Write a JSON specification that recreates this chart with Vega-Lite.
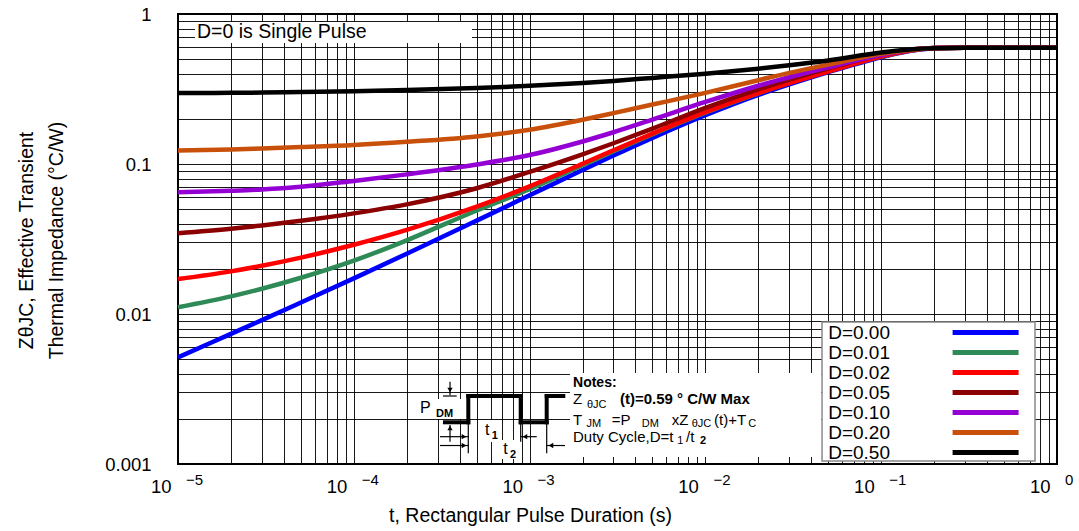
{
"$schema":"https://vega.github.io/schema/vega-lite/v6.json",
"width":879,"height":450,
"autosize":{"type":"none"},
"padding":{"left":178,"top":14,"right":22,"bottom":67},
"background":"white",
"config":{
 "view":{"stroke":"#000","strokeWidth":2},
 "axis":{"gridColor":"#000","gridOpacity":0.9,"gridWidth":1,"ticks":false,"tickSize":0,"domain":false,"labelFont":"Liberation Sans","labelFontSize":18.5,"labelColor":"#000","titleFont":"Liberation Sans","titleFontSize":19.5,"titleFontWeight":"normal","titleColor":"#000","labelOverlap":false,"labelBound":false,"labelFlush":false},
 "text":{"font":"Liberation Sans","color":"#000"}
},
"datasets":{"curves":[
{"D":"D=0.00","t":0.00001,"z":0.00514},{"D":"D=0.00","t":0.00002,"z":0.00737},{"D":"D=0.00","t":0.00003,"z":0.0091},{"D":"D=0.00","t":0.00005,"z":0.01193},{"D":"D=0.00","t":0.0001,"z":0.01729},{"D":"D=0.00","t":0.0002,"z":0.02522},{"D":"D=0.00","t":0.0005,"z":0.04194},{"D":"D=0.00","t":0.001,"z":0.06183},{"D":"D=0.00","t":0.002,"z":0.09117},{"D":"D=0.00","t":0.003,"z":0.1139},{"D":"D=0.00","t":0.005,"z":0.1494},{"D":"D=0.00","t":0.01,"z":0.2113},{"D":"D=0.00","t":0.02,"z":0.2886},{"D":"D=0.00","t":0.03,"z":0.3393},{"D":"D=0.00","t":0.05,"z":0.4101},{"D":"D=0.00","t":0.1,"z":0.5153},{"D":"D=0.00","t":0.15,"z":0.5704},{"D":"D=0.00","t":0.2,"z":0.5922},{"D":"D=0.00","t":0.3,"z":0.595},{"D":"D=0.00","t":0.5,"z":0.595},{"D":"D=0.00","t":1,"z":0.595},
{"D":"D=0.01","t":0.00001,"z":0.01109},{"D":"D=0.01","t":0.00002,"z":0.0131},{"D":"D=0.01","t":0.00003,"z":0.01473},{"D":"D=0.01","t":0.00005,"z":0.01744},{"D":"D=0.01","t":0.0001,"z":0.02269},{"D":"D=0.01","t":0.0002,"z":0.031},{"D":"D=0.01","t":0.0005,"z":0.04901},{"D":"D=0.01","t":0.001,"z":0.0679},{"D":"D=0.01","t":0.002,"z":0.09804},{"D":"D=0.01","t":0.003,"z":0.1216},{"D":"D=0.01","t":0.005,"z":0.1577},{"D":"D=0.01","t":0.01,"z":0.22},{"D":"D=0.01","t":0.02,"z":0.2962},{"D":"D=0.01","t":0.03,"z":0.347},{"D":"D=0.01","t":0.05,"z":0.416},{"D":"D=0.01","t":0.1,"z":0.5194},{"D":"D=0.01","t":0.15,"z":0.5725},{"D":"D=0.01","t":0.2,"z":0.5925},{"D":"D=0.01","t":0.3,"z":0.595},{"D":"D=0.01","t":0.5,"z":0.595},{"D":"D=0.01","t":1,"z":0.595},
{"D":"D=0.02","t":0.00001,"z":0.0171},{"D":"D=0.02","t":0.00002,"z":0.01924},{"D":"D=0.02","t":0.00003,"z":0.02096},{"D":"D=0.02","t":0.00005,"z":0.02374},{"D":"D=0.02","t":0.0001,"z":0.02893},{"D":"D=0.02","t":0.0002,"z":0.03636},{"D":"D=0.02","t":0.0005,"z":0.05198},{"D":"D=0.02","t":0.001,"z":0.07102},{"D":"D=0.02","t":0.002,"z":0.1004},{"D":"D=0.02","t":0.003,"z":0.1235},{"D":"D=0.02","t":0.005,"z":0.1595},{"D":"D=0.02","t":0.01,"z":0.2217},{"D":"D=0.02","t":0.02,"z":0.2965},{"D":"D=0.02","t":0.03,"z":0.3459},{"D":"D=0.02","t":0.05,"z":0.4136},{"D":"D=0.02","t":0.1,"z":0.52},{"D":"D=0.02","t":0.15,"z":0.573},{"D":"D=0.02","t":0.2,"z":0.5932},{"D":"D=0.02","t":0.3,"z":0.595},{"D":"D=0.02","t":0.5,"z":0.595},{"D":"D=0.02","t":1,"z":0.595},
{"D":"D=0.05","t":0.00001,"z":0.0345},{"D":"D=0.05","t":0.00002,"z":0.03699},{"D":"D=0.05","t":0.00003,"z":0.03891},{"D":"D=0.05","t":0.00005,"z":0.0418},{"D":"D=0.05","t":0.0001,"z":0.04688},{"D":"D=0.05","t":0.0002,"z":0.05383},{"D":"D=0.05","t":0.0005,"z":0.06896},{"D":"D=0.05","t":0.001,"z":0.08851},{"D":"D=0.05","t":0.002,"z":0.116},{"D":"D=0.05","t":0.003,"z":0.1375},{"D":"D=0.05","t":0.005,"z":0.1722},{"D":"D=0.05","t":0.01,"z":0.2368},{"D":"D=0.05","t":0.02,"z":0.3147},{"D":"D=0.05","t":0.03,"z":0.3656},{"D":"D=0.05","t":0.05,"z":0.4349},{"D":"D=0.05","t":0.1,"z":0.5355},{"D":"D=0.05","t":0.15,"z":0.5808},{"D":"D=0.05","t":0.2,"z":0.5943},{"D":"D=0.05","t":0.3,"z":0.595},{"D":"D=0.05","t":0.5,"z":0.595},{"D":"D=0.05","t":1,"z":0.595},
{"D":"D=0.10","t":0.00001,"z":0.06471},{"D":"D=0.10","t":0.00002,"z":0.06629},{"D":"D=0.10","t":0.00003,"z":0.06765},{"D":"D=0.10","t":0.00005,"z":0.07048},{"D":"D=0.10","t":0.0001,"z":0.07715},{"D":"D=0.10","t":0.0002,"z":0.08527},{"D":"D=0.10","t":0.0005,"z":0.0992},{"D":"D=0.10","t":0.001,"z":0.1147},{"D":"D=0.10","t":0.002,"z":0.1413},{"D":"D=0.10","t":0.003,"z":0.1628},{"D":"D=0.10","t":0.005,"z":0.1977},{"D":"D=0.10","t":0.01,"z":0.2591},{"D":"D=0.10","t":0.02,"z":0.3324},{"D":"D=0.10","t":0.03,"z":0.3785},{"D":"D=0.10","t":0.05,"z":0.4412},{"D":"D=0.10","t":0.1,"z":0.5321},{"D":"D=0.10","t":0.15,"z":0.577},{"D":"D=0.10","t":0.2,"z":0.5923},{"D":"D=0.10","t":0.3,"z":0.595},{"D":"D=0.10","t":0.5,"z":0.595},{"D":"D=0.10","t":1,"z":0.595},
{"D":"D=0.20","t":0.00001,"z":0.123},{"D":"D=0.20","t":0.00002,"z":0.125},{"D":"D=0.20","t":0.00003,"z":0.127},{"D":"D=0.20","t":0.00005,"z":0.1297},{"D":"D=0.20","t":0.0001,"z":0.134},{"D":"D=0.20","t":0.0002,"z":0.1406},{"D":"D=0.20","t":0.0005,"z":0.1527},{"D":"D=0.20","t":0.001,"z":0.1694},{"D":"D=0.20","t":0.002,"z":0.1973},{"D":"D=0.20","t":0.003,"z":0.2183},{"D":"D=0.20","t":0.005,"z":0.249},{"D":"D=0.20","t":0.01,"z":0.298},{"D":"D=0.20","t":0.02,"z":0.362},{"D":"D=0.20","t":0.03,"z":0.405},{"D":"D=0.20","t":0.05,"z":0.46},{"D":"D=0.20","t":0.1,"z":0.542},{"D":"D=0.20","t":0.15,"z":0.578},{"D":"D=0.20","t":0.2,"z":0.59},{"D":"D=0.20","t":0.3,"z":0.595},{"D":"D=0.20","t":0.5,"z":0.595},{"D":"D=0.20","t":1,"z":0.595},
{"D":"D=0.50","t":0.00001,"z":0.297},{"D":"D=0.50","t":0.00002,"z":0.298},{"D":"D=0.50","t":0.00003,"z":0.2995},{"D":"D=0.50","t":0.00005,"z":0.3015},{"D":"D=0.50","t":0.0001,"z":0.305},{"D":"D=0.50","t":0.0002,"z":0.311},{"D":"D=0.50","t":0.0005,"z":0.321},{"D":"D=0.50","t":0.001,"z":0.332},{"D":"D=0.50","t":0.002,"z":0.347},{"D":"D=0.50","t":0.003,"z":0.358},{"D":"D=0.50","t":0.005,"z":0.375},{"D":"D=0.50","t":0.01,"z":0.4},{"D":"D=0.50","t":0.02,"z":0.432},{"D":"D=0.50","t":0.03,"z":0.455},{"D":"D=0.50","t":0.05,"z":0.49},{"D":"D=0.50","t":0.1,"z":0.553},{"D":"D=0.50","t":0.15,"z":0.583},{"D":"D=0.50","t":0.2,"z":0.592},{"D":"D=0.50","t":0.3,"z":0.595},{"D":"D=0.50","t":0.5,"z":0.595},{"D":"D=0.50","t":1,"z":0.595}
],
"exps":[{"t":0.00001,"e":"−5"},{"t":0.0001,"e":"−4"},{"t":0.001,"e":"−3"},{"t":0.01,"e":"−2"},{"t":0.1,"e":"−1"},{"t":1,"e":"0"}],
"one":[{}]},
"layer":[
{"data":{"name":"curves"},
 "mark":{"type":"line","strokeWidth":4.5,"interpolate":"monotone"},
 "encoding":{
  "x":{"field":"t","type":"quantitative","scale":{"type":"log","domain":[0.00001,1],"nice":false},
   "axis":{"values":[0.00001,0.00002,0.00003,0.00004,0.00005,0.00006,0.00007,0.00008,0.00009,0.0001,0.0002,0.0003,0.0004,0.0005,0.0006,0.0007,0.0008,0.0009,0.001,0.002,0.003,0.004,0.005,0.006,0.007,0.008,0.009,0.01,0.02,0.03,0.04,0.05,0.06,0.07,0.08,0.09,0.1,0.2,0.3,0.4,0.5,0.6,0.7,0.8,0.9,1],
    "labelExpr":"abs(log(datum.value)/LN10 - round(log(datum.value)/LN10)) < 0.0001 ? '10' : ''",
    "labelAlign":"right","labelOffset":-7,"labelBaseline":"middle","labelPadding":22,
    "title":"t, Rectangular Pulse Duration (s)","titleX":352,"titleY":57,"titleAlign":"center","titleBaseline":"alphabetic"}},
  "y":{"field":"z","type":"quantitative","scale":{"type":"log","domain":[0.001,1],"nice":false},
   "axis":{"values":[0.001,0.002,0.003,0.004,0.005,0.006,0.007,0.008,0.009,0.01,0.02,0.03,0.04,0.05,0.06,0.07,0.08,0.09,0.1,0.2,0.3,0.4,0.5,0.6,0.7,0.8,0.9,1],
    "labelExpr":"abs(log(datum.value)/LN10 - round(log(datum.value)/LN10)) < 0.0001 ? toString(datum.value) : ''",
    "labelAlign":"right","labelBaseline":"middle","labelPadding":27,
    "encode":{"labels":{"update":{"dx":{"signal":"abs(datum.value - 0.1) < 1e-9 ? -10 : abs(datum.value - 0.01) < 1e-9 ? -16 : abs(datum.value - 0.001) < 1e-9 ? -22 : 0"}}}},
    "title":["Z\u03b8JC, Effective Transient","Thermal Impedance (°C/W)"],"titleAngle":270,"titleX":-146,"titleY":226,"titleAlign":"center","titleBaseline":"alphabetic","titleLineHeight":30}},
  "color":{"field":"D","type":"nominal",
   "scale":{"domain":["D=0.00","D=0.01","D=0.02","D=0.05","D=0.10","D=0.20","D=0.50"],"range":["#0000ff","#2e8b57","#ff0000","#8b0000","#9400d3","#c8500a","#000000"]},
   "legend":{"orient":"none","legendX":650,"legendY":308.5,"title":null,"labelFont":"Liberation Sans","labelFontSize":19,"labelColor":"#000","symbolType":"M-4.46,0H4.46","symbolSize":219,"symbolStrokeWidth":5,"symbolOffset":147.6,"labelOffset":-167.4,"rowPadding":0,"padding":0}}
 }},
{"data":{"name":"one"},"mark":{"type":"rect","fill":"white","stroke":"#888","strokeWidth":1.5},"encoding":{"x":{"datum":0.04606,"type":"quantitative"},"x2":{"datum":0.7497},"y":{"datum":0.008844,"type":"quantitative"},"y2":{"datum":0.001047}}},
{"data":{"name":"one"},"mark":{"type":"rect","fill":"white"},"encoding":{"x":{"datum":0.00001249,"type":"quantitative"},"x2":{"datum":0.0004703},"y":{"datum":0.8842,"type":"quantitative"},"y2":{"datum":0.6405}}},
{"data":{"name":"one"},"mark":{"type":"text","text":"D=0 is Single Pulse","align":"left","baseline":"middle","fontSize":19.5},"encoding":{"x":{"datum":0.00001282,"type":"quantitative"},"y":{"datum":0.755,"type":"quantitative"}}},
{"data":{"name":"one"},"mark":{"type":"rect","fill":"white"},"encoding":{"x":{"datum":0.001698,"type":"quantitative"},"x2":{"datum":0.0455},"y":{"datum":0.004043,"type":"quantitative"},"y2":{"datum":0.001113}}},
{"data":{"name":"one"},"mark":{"type":"rect","fill":"white"},"encoding":{"x":{"datum":0.0002279,"type":"quantitative"},"x2":{"datum":0.0004109},"y":{"datum":0.002712,"type":"quantitative"},"y2":{"datum":0.001995}}},
{"data":{"name":"one"},"mark":{"type":"rect","fill":"white"},"encoding":{"x":{"datum":0.0005223,"type":"quantitative"},"x2":{"datum":0.000661},"y":{"datum":0.001965,"type":"quantitative"},"y2":{"datum":0.001402}}},
{"data":{"name":"one"},"mark":{"type":"rect","fill":"white"},"encoding":{"x":{"datum":0.0006786,"type":"quantitative"},"x2":{"datum":0.000859},"y":{"datum":0.001445,"type":"quantitative"},"y2":{"datum":0.00108}}},
{"data":{"name":"one"},"mark":{"type":"rule","strokeWidth":4,"strokeCap":"square","color":"#000"},"encoding":{"x":{"datum":0.00033,"type":"quantitative"},"x2":{"datum":0.000448},"y":{"datum":0.001897,"type":"quantitative"}}},
{"data":{"name":"one"},"mark":{"type":"rule","strokeWidth":4,"strokeCap":"square","color":"#000"},"encoding":{"x":{"datum":0.000448,"type":"quantitative"},"y":{"datum":0.001897,"type":"quantitative"},"y2":{"datum":0.00284}}},
{"data":{"name":"one"},"mark":{"type":"rule","strokeWidth":4,"strokeCap":"square","color":"#000"},"encoding":{"x":{"datum":0.000448,"type":"quantitative"},"x2":{"datum":0.00089},"y":{"datum":0.00284,"type":"quantitative"}}},
{"data":{"name":"one"},"mark":{"type":"rule","strokeWidth":4,"strokeCap":"square","color":"#000"},"encoding":{"x":{"datum":0.00089,"type":"quantitative"},"y":{"datum":0.001897,"type":"quantitative"},"y2":{"datum":0.00284}}},
{"data":{"name":"one"},"mark":{"type":"rule","strokeWidth":4,"strokeCap":"square","color":"#000"},"encoding":{"x":{"datum":0.00089,"type":"quantitative"},"x2":{"datum":0.001251},"y":{"datum":0.001897,"type":"quantitative"}}},
{"data":{"name":"one"},"mark":{"type":"rule","strokeWidth":4,"strokeCap":"square","color":"#000"},"encoding":{"x":{"datum":0.001251,"type":"quantitative"},"y":{"datum":0.001897,"type":"quantitative"},"y2":{"datum":0.00284}}},
{"data":{"name":"one"},"mark":{"type":"rule","strokeWidth":4,"strokeCap":"square","color":"#000"},"encoding":{"x":{"datum":0.001251,"type":"quantitative"},"x2":{"datum":0.001555},"y":{"datum":0.00284,"type":"quantitative"}}},
{"data":{"name":"one"},"mark":{"type":"rule","strokeWidth":1.2,"color":"#000"},"encoding":{"x":{"datum":0.0003526,"type":"quantitative"},"y":{"datum":0.003537,"type":"quantitative"},"y2":{"datum":0.002884}}},
{"data":{"name":"one"},"mark":{"type":"rule","strokeWidth":1.2,"color":"#000"},"encoding":{"x":{"datum":0.0003218,"type":"quantitative"},"x2":{"datum":0.0003848},"y":{"datum":0.00284,"type":"quantitative"}}},
{"data":{"name":"one"},"mark":{"type":"rule","strokeWidth":1.2,"color":"#000"},"encoding":{"x":{"datum":0.0003526,"type":"quantitative"},"y":{"datum":0.00182,"type":"quantitative"},"y2":{"datum":0.001408}}},
{"data":{"name":"one"},"mark":{"type":"rule","strokeWidth":1.2,"color":"#000"},"encoding":{"x":{"datum":0.0003093,"type":"quantitative"},"x2":{"datum":0.000448},"y":{"datum":0.001521,"type":"quantitative"}}},
{"data":{"name":"one"},"mark":{"type":"rule","strokeWidth":1.2,"color":"#000"},"encoding":{"x":{"datum":0.0003093,"type":"quantitative"},"x2":{"datum":0.000448},"y":{"datum":0.001328,"type":"quantitative"}}},
{"data":{"name":"one"},"mark":{"type":"rule","strokeWidth":1.2,"color":"#000"},"encoding":{"x":{"datum":0.00089,"type":"quantitative"},"x2":{"datum":0.001098},"y":{"datum":0.001521,"type":"quantitative"}}},
{"data":{"name":"one"},"mark":{"type":"rule","strokeWidth":1.2,"color":"#000"},"encoding":{"x":{"datum":0.001251,"type":"quantitative"},"x2":{"datum":0.00159},"y":{"datum":0.001328,"type":"quantitative"}}},
{"data":{"name":"one"},"mark":{"type":"rule","strokeWidth":1.2,"color":"#000"},"encoding":{"x":{"datum":0.000448,"type":"quantitative"},"y":{"datum":0.001897,"type":"quantitative"},"y2":{"datum":0.001178}}},
{"data":{"name":"one"},"mark":{"type":"rule","strokeWidth":1.2,"color":"#000"},"encoding":{"x":{"datum":0.00089,"type":"quantitative"},"y":{"datum":0.001897,"type":"quantitative"},"y2":{"datum":0.001408}}},
{"data":{"name":"one"},"mark":{"type":"rule","strokeWidth":1.2,"color":"#000"},"encoding":{"x":{"datum":0.001251,"type":"quantitative"},"y":{"datum":0.001897,"type":"quantitative"},"y2":{"datum":0.001178}}},
{"data":{"name":"one"},"mark":{"type":"point","shape":"triangle-down","filled":true,"size":28,"color":"#000","opacity":1},"encoding":{"x":{"datum":0.0003526,"type":"quantitative"},"y":{"datum":0.003113,"type":"quantitative"}}},
{"data":{"name":"one"},"mark":{"type":"point","shape":"triangle-up","filled":true,"size":28,"color":"#000","opacity":1},"encoding":{"x":{"datum":0.0003526,"type":"quantitative"},"y":{"datum":0.001738,"type":"quantitative"}}},
{"data":{"name":"one"},"mark":{"type":"point","shape":"triangle-right","filled":true,"size":28,"color":"#000","opacity":1},"encoding":{"x":{"datum":0.0004233,"type":"quantitative"},"y":{"datum":0.001521,"type":"quantitative"}}},
{"data":{"name":"one"},"mark":{"type":"point","shape":"triangle-right","filled":true,"size":28,"color":"#000","opacity":1},"encoding":{"x":{"datum":0.0004233,"type":"quantitative"},"y":{"datum":0.001328,"type":"quantitative"}}},
{"data":{"name":"one"},"mark":{"type":"point","shape":"triangle-left","filled":true,"size":28,"color":"#000","opacity":1},"encoding":{"x":{"datum":0.0009414,"type":"quantitative"},"y":{"datum":0.001521,"type":"quantitative"}}},
{"data":{"name":"one"},"mark":{"type":"point","shape":"triangle-left","filled":true,"size":28,"color":"#000","opacity":1},"encoding":{"x":{"datum":0.001323,"type":"quantitative"},"y":{"datum":0.001328,"type":"quantitative"}}},
{"data":{"name":"one"},"mark":{"type":"text","text":"P","align":"left","baseline":"middle","fontSize":16},"encoding":{"x":{"datum":0.000238,"type":"quantitative"},"y":{"datum":0.002373,"type":"quantitative"}}},
{"data":{"name":"one"},"mark":{"type":"text","text":"DM","align":"left","baseline":"middle","fontSize":11,"fontWeight":"bold"},"encoding":{"x":{"datum":0.0002935,"type":"quantitative"},"y":{"datum":0.002145,"type":"quantitative"}}},
{"data":{"name":"one"},"mark":{"type":"text","text":"t","align":"left","baseline":"middle","fontSize":16},"encoding":{"x":{"datum":0.0005573,"type":"quantitative"},"y":{"datum":0.001685,"type":"quantitative"}}},
{"data":{"name":"one"},"mark":{"type":"text","text":"1","align":"left","baseline":"middle","fontSize":11,"fontWeight":"bold"},"encoding":{"x":{"datum":0.0006086,"type":"quantitative"},"y":{"datum":0.001537,"type":"quantitative"}}},
{"data":{"name":"one"},"mark":{"type":"text","text":"t","align":"left","baseline":"middle","fontSize":16},"encoding":{"x":{"datum":0.0007087,"type":"quantitative"},"y":{"datum":0.001259,"type":"quantitative"}}},
{"data":{"name":"one"},"mark":{"type":"text","text":"2","align":"left","baseline":"middle","fontSize":11,"fontWeight":"bold"},"encoding":{"x":{"datum":0.0007735,"type":"quantitative"},"y":{"datum":0.001148,"type":"quantitative"}}},
{"data":{"name":"one"},"mark":{"type":"text","text":"Notes:","align":"left","baseline":"middle","fontSize":14,"fontWeight":"bold"},"encoding":{"x":{"datum":0.001766,"type":"quantitative"},"y":{"datum":0.003451,"type":"quantitative"}}},
{"data":{"name":"one"},"mark":{"type":"text","text":"Z","align":"left","baseline":"middle","fontSize":15},"encoding":{"x":{"datum":0.001766,"type":"quantitative"},"y":{"datum":0.002692,"type":"quantitative"}}},
{"data":{"name":"one"},"mark":{"type":"text","text":"θJC","align":"left","baseline":"middle","fontSize":11},"encoding":{"x":{"datum":0.002121,"type":"quantitative"},"y":{"datum":0.002474,"type":"quantitative"}}},
{"data":{"name":"one"},"mark":{"type":"text","text":"(t)=0.59 ° C/W Max","align":"left","baseline":"middle","fontSize":15,"fontWeight":"bold"},"encoding":{"x":{"datum":0.003268,"type":"quantitative"},"y":{"datum":0.002692,"type":"quantitative"}}},
{"data":{"name":"one"},"mark":{"type":"text","text":"T","align":"left","baseline":"middle","fontSize":15},"encoding":{"x":{"datum":0.001766,"type":"quantitative"},"y":{"datum":0.00195,"type":"quantitative"}}},
{"data":{"name":"one"},"mark":{"type":"text","text":"JM","align":"left","baseline":"middle","fontSize":11},"encoding":{"x":{"datum":0.00211,"type":"quantitative"},"y":{"datum":0.001848,"type":"quantitative"}}},
{"data":{"name":"one"},"mark":{"type":"text","text":"=P","align":"left","baseline":"middle","fontSize":15},"encoding":{"x":{"datum":0.002931,"type":"quantitative"},"y":{"datum":0.00195,"type":"quantitative"}}},
{"data":{"name":"one"},"mark":{"type":"text","text":"DM","align":"left","baseline":"middle","fontSize":11},"encoding":{"x":{"datum":0.004342,"type":"quantitative"},"y":{"datum":0.001848,"type":"quantitative"}}},
{"data":{"name":"one"},"mark":{"type":"text","text":"xZ","align":"left","baseline":"middle","fontSize":15},"encoding":{"x":{"datum":0.00643,"type":"quantitative"},"y":{"datum":0.00195,"type":"quantitative"}}},
{"data":{"name":"one"},"mark":{"type":"text","text":"θJC","align":"left","baseline":"middle","fontSize":11},"encoding":{"x":{"datum":0.00836,"type":"quantitative"},"y":{"datum":0.001848,"type":"quantitative"}}},
{"data":{"name":"one"},"mark":{"type":"text","text":"(t)+T","align":"left","baseline":"middle","fontSize":15},"encoding":{"x":{"datum":0.01119,"type":"quantitative"},"y":{"datum":0.00195,"type":"quantitative"}}},
{"data":{"name":"one"},"mark":{"type":"text","text":"C","align":"left","baseline":"middle","fontSize":11},"encoding":{"x":{"datum":0.01754,"type":"quantitative"},"y":{"datum":0.001848,"type":"quantitative"}}},
{"data":{"name":"one"},"mark":{"type":"text","text":"Duty Cycle,D=t","align":"left","baseline":"middle","fontSize":15},"encoding":{"x":{"datum":0.001766,"type":"quantitative"},"y":{"datum":0.001507,"type":"quantitative"}}},
{"data":{"name":"one"},"mark":{"type":"text","text":"1","align":"left","baseline":"middle","fontSize":11},"encoding":{"x":{"datum":0.006922,"type":"quantitative"},"y":{"datum":0.001413,"type":"quantitative"}}},
{"data":{"name":"one"},"mark":{"type":"text","text":"/t","align":"left","baseline":"middle","fontSize":15},"encoding":{"x":{"datum":0.007757,"type":"quantitative"},"y":{"datum":0.001507,"type":"quantitative"}}},
{"data":{"name":"one"},"mark":{"type":"text","text":"2","align":"left","baseline":"middle","fontSize":11,"fontWeight":"bold"},"encoding":{"x":{"datum":0.009317,"type":"quantitative"},"y":{"datum":0.001413,"type":"quantitative"}}},
{"data":{"name":"exps"},"mark":{"type":"text","align":"left","baseline":"middle","dx":8,"dy":16,"fontSize":15},"encoding":{"x":{"field":"t","type":"quantitative"},"y":{"datum":0.001,"type":"quantitative"},"text":{"field":"e"}}}
]
}
